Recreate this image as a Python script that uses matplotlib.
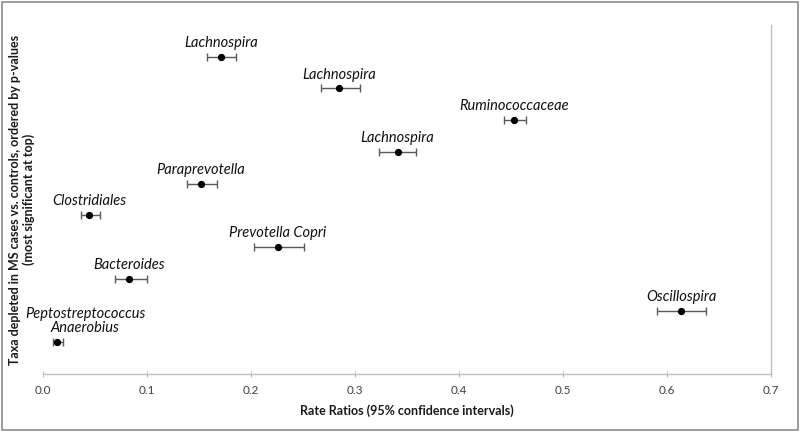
#!/usr/bin/env python3
"""Rate ratios of taxa depleted in MS cases vs. controls, with 95% CIs."""

import matplotlib.pyplot as plt
from matplotlib.patches import Rectangle

# Ordered by p-value, most significant first (drawn at top)
TAXA = [
    "Lachnospira",
    "Lachnospira",
    "Ruminococcaceae",
    "Lachnospira",
    "Paraprevotella",
    "Clostridiales",
    "Prevotella Copri",
    "Bacteroides",
    "Oscillospira",
    "Peptostreptococcus\nAnaerobius",
]
RATE_RATIO = [0.171, 0.285, 0.453, 0.341, 0.152, 0.0445, 0.226, 0.083, 0.6135, 0.0138]
CI_LOW = [0.158, 0.267, 0.443, 0.323, 0.138, 0.037, 0.203, 0.069, 0.590, 0.0099]
CI_HIGH = [0.186, 0.305, 0.464, 0.359, 0.167, 0.055, 0.251, 0.100, 0.6375, 0.019]
X_TICKS = [0.0, 0.1, 0.2, 0.3, 0.4, 0.5, 0.6, 0.7]


def main() -> None:
    plt.rcParams['font.family'] = ['Lato', 'DejaVu Sans']
    fig = plt.figure(figsize=(8.0, 4.32), dpi=100)
    ax = fig.add_axes([0.05375, 0.1343, 0.91, 0.8078])

    n = len(TAXA)
    ranks = list(range(n, 0, -1))
    err_lo = [r - lo for r, lo in zip(RATE_RATIO, CI_LOW)]
    err_hi = [hi - r for r, hi in zip(RATE_RATIO, CI_HIGH)]

    ax.errorbar(
        RATE_RATIO, ranks,
        xerr=[err_lo, err_hi],
        fmt='none', ecolor='#5a5a5a', elinewidth=1.0,
        capsize=3, capthick=1.0, zorder=2,
    )
    ax.scatter(RATE_RATIO, ranks, s=18, color='black', zorder=3)

    for name, x, y in zip(TAXA, RATE_RATIO, ranks):
        # the lowest label would run off the left edge, so nudge it right
        dx = 20 if x < 0.02 else 0
        ax.annotate(
            name, (x, y), xytext=(dx, 5), textcoords='offset points',
            ha='center', va='bottom', fontsize=10.5, style='italic',
            color='#111111', linespacing=1.0,
        )

    ax.set_xlim(0, 0.7)
    ax.set_ylim(0, 11)
    ax.set_xticks(X_TICKS)
    ax.set_xticklabels([f"{t:.1f}" for t in X_TICKS])
    ax.set_yticks([])
    ax.tick_params(axis='x', direction='inout', length=4, width=0.8,
                   color='#bfbfbf', labelsize=8.5, labelcolor='#404040', pad=6)

    for side in ('top', 'left'):
        ax.spines[side].set_visible(False)
    for side in ('bottom', 'right'):
        ax.spines[side].set_color('#bfbfbf')
        ax.spines[side].set_linewidth(1.0)

    ax.set_xlabel("Rate Ratios (95% confidence intervals)", fontsize=9,
                  fontweight='bold', labelpad=6, color='#1a1a1a')
    ax.set_ylabel("Taxa depleted in MS cases vs. controls, ordered by p-values\n"
                  "(most significant at top)", fontsize=9, fontweight='bold',
                  labelpad=6, color='#1a1a1a', linespacing=1.05)

    # outer frame around the whole figure
    fig.patches.append(Rectangle((0.003, 0.005), 0.994, 0.99, transform=fig.transFigure,
                                 fill=False, edgecolor='#8c8c8c', linewidth=1.2))

    fig.savefig("out.png", dpi=100)
    plt.close(fig)


if __name__ == "__main__":
    main()
